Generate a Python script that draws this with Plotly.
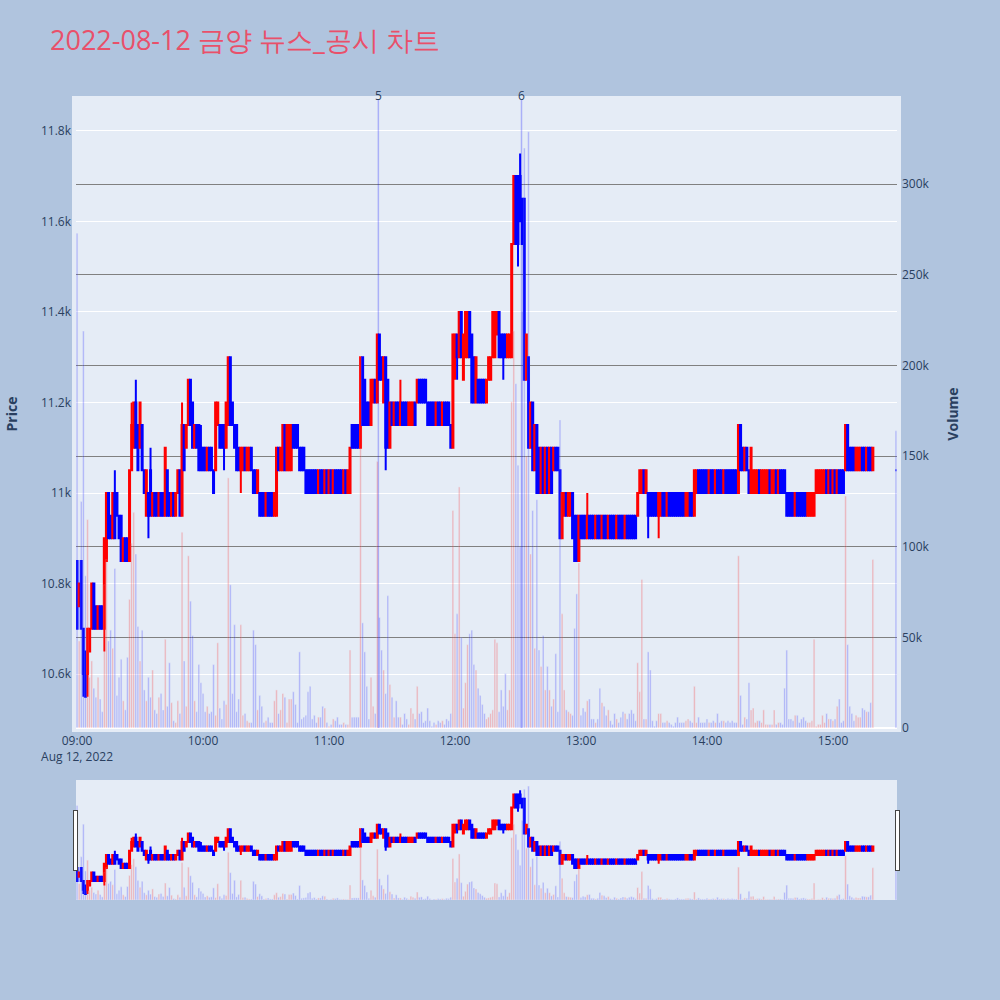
import plotly.graph_objects as go

# minute offsets from 09:00 (continuous session to 15:19, closing auction at 15:30)
minute_offsets = list(range(0, 380)) + [390]
times = [f"2022-08-12 {9 + m // 60:02d}:{m % 60:02d}" for m in minute_offsets]

opens = [
    10850, 10750, 10850, 10700, 10650, 10600, 10650, 10700, 10800, 10750,
    10700, 10750, 10750, 10700, 10850, 11000, 10950, 10900, 11000, 11000,
    10950, 10950, 10850, 10900, 10900, 10850, 11050, 11100, 11200, 11150,
    11100, 11150, 11050, 10950, 11000, 11050, 10950, 11000, 11000, 10950,
    11000, 11000, 10950, 11050, 11000, 10950, 11000, 10950, 11000, 11050,
    10950, 11150, 11100, 11150, 11250, 11200, 11100, 11150, 11150, 11100,
    11100, 11100, 11050, 11100, 11100, 11050, 11050, 11150, 11150, 11150,
    11150, 11100, 11150, 11300, 11200, 11150, 11150, 11100, 11050, 11050,
    11100, 11050, 11050, 11100, 11050, 11050, 11000, 11000, 11000, 11000,
    10950, 11000, 11000, 11000, 10950, 10950, 11100, 11050, 11050, 11150,
    11050, 11050, 11050, 11150, 11150, 11150, 11100, 11100, 11100, 11050,
    11050, 11050, 11050, 11050, 11050, 11000, 11050, 11050, 11000, 11050,
    11000, 11050, 11000, 11050, 11050, 11050, 11050, 11000, 11050, 11000,
    11000, 11150, 11150, 11150, 11150, 11100, 11300, 11250, 11200, 11200,
    11150, 11200, 11250, 11200, 11350, 11300, 11200, 11300, 11250, 11100,
    11200, 11150, 11200, 11200, 11150, 11200, 11200, 11200, 11150, 11150,
    11150, 11200, 11200, 11250, 11250, 11250, 11250, 11200, 11200, 11200,
    11200, 11150, 11200, 11200, 11150, 11200, 11200, 11200, 11150, 11100,
    11300, 11350, 11300, 11400, 11250, 11300, 11300, 11400, 11350, 11300,
    11200, 11250, 11250, 11250, 11250, 11200, 11250, 11250, 11300, 11300,
    11350, 11400, 11350, 11350, 11350, 11300, 11300, 11300, 11550, 11700,
    11700, 11700, 11650, 11650, 11250, 11300, 11100, 11200, 11050, 11150,
    11100, 11000, 11100, 11000, 11100, 11000, 11100, 11050, 11100, 11100,
    11050, 10900, 10950, 11000, 10950, 10950, 11000, 10950, 10950, 10850,
    10950, 10950, 10950, 10900, 10950, 10950, 10950, 10900, 10950, 10950,
    10900, 10950, 10950, 10900, 10950, 10950, 10950, 10900, 10950, 10950,
    10950, 10900, 10950, 10950, 10950, 10950, 10950, 10950, 11000, 11000,
    11050, 11000, 11000, 11000, 11000, 11000, 11000, 10950, 10950, 11000,
    11000, 10950, 11000, 11000, 11000, 11000, 11000, 11000, 11000, 11000,
    10950, 10950, 11000, 11000, 10950, 11000, 11050, 11050, 11050, 11050,
    11050, 11000, 11050, 11050, 11000, 11050, 11050, 11050, 11000, 11050,
    11050, 11050, 11050, 11050, 11050, 11000, 11150, 11100, 11050, 11100,
    11050, 11000, 11000, 11000, 11000, 11050, 11000, 11000, 11000, 11000,
    11050, 11000, 11000, 11050, 11000, 11050, 11050, 11050, 11000, 11000,
    11000, 11000, 10950, 11000, 11000, 11000, 11000, 11000, 10950, 10950,
    10950, 10950, 11000, 11000, 11000, 11000, 11000, 11050, 11000, 11050,
    11000, 11050, 11000, 11050, 11050, 11050, 11050, 11150, 11100, 11100,
    11100, 11050, 11050, 11050, 11100, 11100, 11050, 11100, 11100, 11050,
    11050,
]

closes = [
    10700, 10800, 10700, 10600, 10550, 10700, 10700, 10800, 10700, 10700,
    10750, 10700, 10700, 10900, 11000, 10900, 10900, 11000, 10900, 10950,
    10900, 10850, 10900, 10850, 10850, 11050, 11150, 11200, 11100, 11050,
    11200, 11050, 11000, 11050, 10950, 10950, 11000, 10950, 10950, 11000,
    10950, 10950, 11100, 10950, 10950, 11000, 10950, 11000, 11050, 10950,
    11150, 11050, 11150, 11250, 11150, 11100, 11150, 11100, 11050, 11050,
    11050, 11050, 11100, 11050, 11050, 11000, 11200, 11200, 11100, 11100,
    11100, 11200, 11300, 11150, 11150, 11100, 11050, 11050, 11100, 11100,
    11050, 11100, 11100, 11050, 11000, 11000, 11050, 10950, 10950, 10950,
    11000, 10950, 10950, 10950, 11000, 11100, 11050, 11100, 11150, 11050,
    11150, 11150, 11150, 11100, 11100, 11100, 11050, 11050, 11050, 11000,
    11000, 11000, 11000, 11000, 11000, 11050, 11000, 11000, 11050, 11000,
    11050, 11000, 11050, 11000, 11000, 11000, 11000, 11050, 11000, 11050,
    11100, 11100, 11100, 11100, 11100, 11300, 11150, 11150, 11150, 11150,
    11250, 11250, 11200, 11350, 11250, 11250, 11300, 11100, 11100, 11200,
    11150, 11200, 11150, 11150, 11200, 11150, 11150, 11150, 11200, 11200,
    11200, 11150, 11250, 11200, 11200, 11200, 11200, 11150, 11150, 11150,
    11150, 11200, 11150, 11150, 11200, 11150, 11150, 11150, 11100, 11350,
    11350, 11300, 11400, 11300, 11350, 11400, 11400, 11300, 11200, 11200,
    11300, 11200, 11200, 11200, 11200, 11250, 11300, 11300, 11400, 11400,
    11400, 11300, 11300, 11300, 11300, 11350, 11350, 11550, 11700, 11550,
    11550, 11600, 11550, 11250, 11350, 11100, 11200, 11050, 11150, 11000,
    11000, 11100, 11000, 11100, 11000, 11100, 11000, 11100, 11050, 11050,
    10900, 11000, 11000, 10950, 11000, 11000, 10900, 10850, 10850, 10950,
    10900, 10900, 10900, 10950, 10900, 10900, 10900, 10950, 10900, 10900,
    10950, 10900, 10900, 10950, 10900, 10900, 10900, 10950, 10900, 10900,
    10900, 10950, 10900, 10900, 10900, 10900, 10900, 11000, 11050, 11050,
    11000, 11050, 10950, 10950, 10950, 10950, 10950, 11000, 11000, 10950,
    10950, 11000, 10950, 10950, 10950, 10950, 10950, 10950, 10950, 10950,
    11000, 11000, 10950, 10950, 11050, 11050, 11000, 11000, 11000, 11000,
    11000, 11050, 11000, 11000, 11050, 11000, 11000, 11000, 11050, 11000,
    11000, 11000, 11000, 11000, 11000, 11150, 11050, 11050, 11100, 11050,
    11000, 11100, 11050, 11050, 11050, 11000, 11050, 11050, 11050, 11050,
    11000, 11050, 11050, 11000, 11050, 11000, 11000, 11000, 10950, 10950,
    10950, 10950, 11000, 10950, 10950, 10950, 10950, 10950, 11000, 11000,
    11000, 11000, 11050, 11050, 11050, 11050, 11050, 11000, 11050, 11000,
    11050, 11000, 11050, 11000, 11000, 11000, 11150, 11050, 11050, 11050,
    11050, 11100, 11100, 11100, 11050, 11050, 11100, 11050, 11050, 11100,
    11050,
]

highs = [
    10850, 10800, 10850, 10700, 10650, 10700, 10700, 10800, 10800, 10750,
    10750, 10750, 10750, 10900, 11000, 11000, 10950, 11000, 11050, 11000,
    10950, 10950, 10900, 10900, 10900, 11050, 11200, 11200, 11250, 11150,
    11200, 11150, 11050, 11050, 11000, 11100, 11000, 11000, 11000, 11000,
    11000, 11000, 11100, 11050, 11000, 11000, 11000, 11000, 11050, 11050,
    11200, 11150, 11150, 11250, 11250, 11200, 11150, 11150, 11150, 11150,
    11100, 11100, 11100, 11100, 11100, 11050, 11200, 11200, 11150, 11150,
    11150, 11200, 11300, 11300, 11200, 11150, 11150, 11100, 11100, 11100,
    11100, 11100, 11100, 11100, 11050, 11050, 11050, 11000, 11000, 11000,
    11000, 11000, 11000, 11000, 11000, 11100, 11100, 11100, 11150, 11150,
    11150, 11150, 11150, 11150, 11150, 11150, 11100, 11100, 11100, 11050,
    11050, 11050, 11050, 11050, 11050, 11050, 11050, 11050, 11050, 11050,
    11050, 11050, 11050, 11050, 11050, 11050, 11050, 11050, 11050, 11050,
    11100, 11150, 11150, 11150, 11150, 11300, 11300, 11250, 11200, 11200,
    11250, 11250, 11250, 11350, 11350, 11300, 11300, 11300, 11250, 11200,
    11200, 11200, 11200, 11200, 11250, 11200, 11200, 11200, 11200, 11200,
    11200, 11200, 11250, 11250, 11250, 11250, 11250, 11200, 11200, 11200,
    11200, 11200, 11200, 11200, 11200, 11200, 11200, 11200, 11150, 11350,
    11350, 11350, 11400, 11400, 11350, 11400, 11400, 11400, 11350, 11300,
    11300, 11250, 11250, 11250, 11250, 11250, 11300, 11300, 11400, 11400,
    11400, 11400, 11350, 11350, 11350, 11350, 11350, 11550, 11700, 11700,
    11700, 11750, 11650, 11650, 11350, 11300, 11200, 11200, 11150, 11150,
    11100, 11100, 11100, 11100, 11100, 11100, 11100, 11100, 11100, 11100,
    11050, 11000, 11000, 11000, 11000, 11000, 11000, 10950, 10950, 10950,
    10950, 10950, 10950, 11000, 10950, 10950, 10950, 10950, 10950, 10950,
    10950, 10950, 10950, 10950, 10950, 10950, 10950, 10950, 10950, 10950,
    10950, 10950, 10950, 10950, 10950, 10950, 10950, 11000, 11050, 11050,
    11050, 11050, 11000, 11000, 11000, 11000, 11000, 11000, 11000, 11000,
    11000, 11000, 11000, 11000, 11000, 11000, 11000, 11000, 11000, 11000,
    11000, 11000, 11000, 11000, 11050, 11050, 11050, 11050, 11050, 11050,
    11050, 11050, 11050, 11050, 11050, 11050, 11050, 11050, 11050, 11050,
    11050, 11050, 11050, 11050, 11050, 11150, 11150, 11100, 11100, 11100,
    11050, 11100, 11050, 11050, 11050, 11050, 11050, 11050, 11050, 11050,
    11050, 11050, 11050, 11050, 11050, 11050, 11050, 11050, 11000, 11000,
    11000, 11000, 11000, 11000, 11000, 11000, 11000, 11000, 11000, 11000,
    11000, 11000, 11050, 11050, 11050, 11050, 11050, 11050, 11050, 11050,
    11050, 11050, 11050, 11050, 11050, 11050, 11150, 11150, 11100, 11100,
    11100, 11100, 11100, 11100, 11100, 11100, 11100, 11100, 11100, 11100,
    11050,
]

lows = [
    10700, 10750, 10700, 10550, 10550, 10550, 10650, 10700, 10700, 10700,
    10700, 10700, 10700, 10650, 10850, 10900, 10900, 10900, 10900, 10950,
    10900, 10850, 10850, 10850, 10850, 10850, 11050, 11100, 11100, 11050,
    11100, 11050, 11000, 10950, 10900, 10950, 10950, 10950, 10950, 10950,
    10950, 10950, 10950, 10950, 10950, 10950, 10950, 10950, 11000, 10950,
    10950, 11050, 11100, 11150, 11150, 11100, 11100, 11100, 11050, 11050,
    11050, 11050, 11050, 11050, 11050, 11000, 11050, 11150, 11100, 11100,
    11050, 11100, 11150, 11150, 11150, 11100, 11050, 11050, 11000, 11050,
    11050, 11050, 11050, 11050, 11000, 11000, 11000, 10950, 10950, 10950,
    10950, 10950, 10950, 10950, 10950, 10950, 11050, 11050, 11050, 11050,
    11050, 11050, 11050, 11100, 11100, 11100, 11050, 11050, 11050, 11000,
    11000, 11000, 11000, 11000, 11000, 11000, 11000, 11000, 11000, 11000,
    11000, 11000, 11000, 11000, 11000, 11000, 11000, 11000, 11000, 11000,
    11000, 11100, 11100, 11100, 11100, 11100, 11150, 11150, 11150, 11150,
    11150, 11200, 11200, 11200, 11250, 11250, 11200, 11050, 11100, 11100,
    11150, 11150, 11150, 11150, 11150, 11150, 11150, 11150, 11150, 11150,
    11150, 11150, 11200, 11200, 11200, 11200, 11200, 11150, 11150, 11150,
    11150, 11150, 11150, 11150, 11150, 11150, 11150, 11150, 11100, 11100,
    11250, 11250, 11300, 11300, 11250, 11300, 11300, 11300, 11200, 11200,
    11200, 11200, 11200, 11200, 11200, 11200, 11250, 11250, 11300, 11300,
    11350, 11300, 11300, 11250, 11300, 11300, 11300, 11300, 11550, 11550,
    11500, 11600, 11550, 11250, 11250, 11100, 11100, 11050, 11050, 11000,
    11000, 11000, 11000, 11000, 11000, 11000, 11000, 11050, 11050, 11050,
    10900, 10900, 10950, 10950, 10950, 10950, 10900, 10850, 10850, 10850,
    10900, 10900, 10900, 10900, 10900, 10900, 10900, 10900, 10900, 10900,
    10900, 10900, 10900, 10900, 10900, 10900, 10900, 10900, 10900, 10900,
    10900, 10900, 10900, 10900, 10900, 10900, 10900, 10950, 11000, 11000,
    11000, 11000, 10900, 10950, 10950, 10950, 10950, 10900, 10950, 10950,
    10950, 10950, 10950, 10950, 10950, 10950, 10950, 10950, 10950, 10950,
    10950, 10950, 10950, 10950, 10950, 11000, 11000, 11000, 11000, 11000,
    11000, 11000, 11000, 11000, 11000, 11000, 11000, 11000, 11000, 11000,
    11000, 11000, 11000, 11000, 11000, 11000, 11050, 11050, 11050, 11050,
    11000, 11000, 11000, 11000, 11000, 11000, 11000, 11000, 11000, 11000,
    11000, 11000, 11000, 11000, 11000, 11000, 11000, 11000, 10950, 10950,
    10950, 10950, 10950, 10950, 10950, 10950, 10950, 10950, 10950, 10950,
    10950, 10950, 11000, 11000, 11000, 11000, 11000, 11000, 11000, 11000,
    11000, 11000, 11000, 11000, 11000, 11000, 11050, 11050, 11050, 11050,
    11050, 11050, 11050, 11050, 11050, 11050, 11050, 11050, 11050, 11050,
    11050,
]

volumes = [
    273000, 48000, 125000, 219000, 84000, 115000, 28000, 37000, 22000, 17000,
    28000, 16000, 9000, 79000, 93000, 48000, 54000, 44000, 88000, 18000,
    28000, 38000, 15000, 10000, 39000, 71000, 102000, 119000, 96000, 56000,
    37000, 54000, 21000, 15000, 28000, 17000, 32000, 10000, 8000, 17000,
    19000, 10000, 49000, 12000, 36000, 14000, 4000, 3000, 15000, 8000,
    108000, 37000, 12000, 95000, 70000, 51000, 15000, 9000, 35000, 25000,
    19000, 9000, 12000, 8000, 9000, 35000, 7000, 47000, 11000, 5000,
    15000, 13000, 138000, 79000, 19000, 57000, 9000, 16000, 57000, 7000,
    8000, 4000, 3000, 3000, 54000, 46000, 10000, 18000, 12000, 3000,
    4000, 6000, 3000, 3000, 15000, 21000, 8000, 10000, 19000, 17000,
    3000, 16000, 16000, 20000, 13000, 3000, 42000, 5000, 6000, 7000,
    20000, 23000, 5000, 7000, 3000, 6000, 6000, 12000, 11000, 3000,
    1000, 2000, 5000, 4000, 6000, 2000, 2000, 3000, 2000, 2000,
    43000, 6000, 6000, 6000, 6000, 205000, 58000, 42000, 23000, 5000,
    28000, 12000, 8000, 147000, 61000, 43000, 32000, 19000, 73000, 24000,
    17000, 6000, 15000, 6000, 6000, 2000, 8000, 5000, 2000, 11000,
    8000, 5000, 23000, 8000, 9000, 3000, 4000, 11000, 4000, 1000,
    3000, 2000, 4000, 3000, 4000, 2000, 5000, 4000, 8000, 120000,
    52000, 63000, 133000, 50000, 11000, 25000, 46000, 52000, 54000, 35000,
    32000, 22000, 18000, 13000, 8000, 5000, 6000, 8000, 10000, 49000,
    47000, 9000, 21000, 12000, 30000, 10000, 21000, 180000, 219000, 190000,
    145000, 100000, 230000, 320000, 150000, 329000, 96000, 120000, 44000, 126000,
    43000, 34000, 51000, 21000, 34000, 21000, 12000, 16000, 41000, 9000,
    170000, 63000, 21000, 10000, 9000, 8000, 7000, 55000, 74000, 91000,
    7000, 11000, 9000, 15000, 16000, 5000, 5000, 3000, 5000, 22000,
    14000, 12000, 7000, 10000, 4000, 2000, 8000, 5000, 3000, 6000,
    9000, 8000, 5000, 8000, 10000, 8000, 4000, 36000, 20000, 82000,
    5000, 5000, 42000, 32000, 4000, 1000, 4000, 8000, 8000, 3000,
    3000, 4000, 3000, 2000, 1000, 3000, 6000, 3000, 3000, 3000,
    4000, 5000, 4000, 3000, 23000, 3000, 6000, 3000, 3000, 3000,
    5000, 3000, 3000, 4000, 3000, 8000, 3000, 4000, 4000, 3000,
    4000, 3000, 4000, 3000, 3000, 95000, 18000, 2000, 6000, 5000,
    25000, 10000, 11000, 3000, 4000, 4000, 3000, 10000, 2000, 2000,
    2000, 2000, 10000, 2000, 3000, 3000, 2000, 22000, 43000, 5000,
    5000, 4000, 7000, 7000, 3000, 5000, 6000, 4000, 3000, 3000,
    4000, 49000, 1000, 2000, 2000, 7000, 3000, 8000, 5000, 5000,
    4000, 5000, 12000, 16000, 3000, 4000, 128000, 46000, 12000, 8000,
    4000, 7000, 6000, 6000, 11000, 10000, 9000, 9000, 14000, 93000,
    164000,
]

news_times = ["2022-08-12 11:23:30", "2022-08-12 12:31:40"]
news_labels = ["5", "6"]

vol_colors = ["red" if c > o else "blue" for o, c in zip(opens, closes)]

fig = go.Figure()
fig.add_trace(
    go.Candlestick(
        x=times, open=opens, high=highs, low=lows, close=closes,
        increasing=dict(line=dict(color="red"), fillcolor="red"),
        decreasing=dict(line=dict(color="blue"), fillcolor="blue"),
        name="Price", showlegend=False, yaxis="y",
    )
)
fig.add_trace(
    go.Bar(x=times, y=volumes, marker_color=vol_colors, opacity=0.25,
           name="Volume", showlegend=False, yaxis="y2")
)

for t, lab in zip(news_times, news_labels):
    fig.add_shape(type="line", xref="x", yref="paper", x0=t, x1=t, y0=0, y1=1,
                  line=dict(color="blue", width=1.5), opacity=0.25)
    fig.add_annotation(x=t, xref="x", y=1, yref="paper", text=lab,
                       showarrow=False, yanchor="bottom", yshift=-6)

fig.update_layout(
    width=1000, height=1000,
    paper_bgcolor="lightsteelblue",
    title=dict(text="2022-08-12 금양 뉴스_공시 차트",
               font=dict(size=27, color="#E9506A")),
    margin=dict(l=76, r=103, t=100, b=100, pad=4),
    xaxis=dict(rangeslider=dict(visible=True)),
    yaxis=dict(title=dict(text="<b>Price</b>", standoff=24), range=[10481, 11868],
               automargin=False),
    yaxis2=dict(title=dict(text="<b>Volume</b>", standoff=23), range=[0, 346500],
                overlaying="y", side="right", gridcolor="gray", showgrid=True,
                automargin=False),
    showlegend=False,
)

fig.write_html("out.html", config={"displayModeBar": False},
               post_script="document.body.style.margin='0';")
